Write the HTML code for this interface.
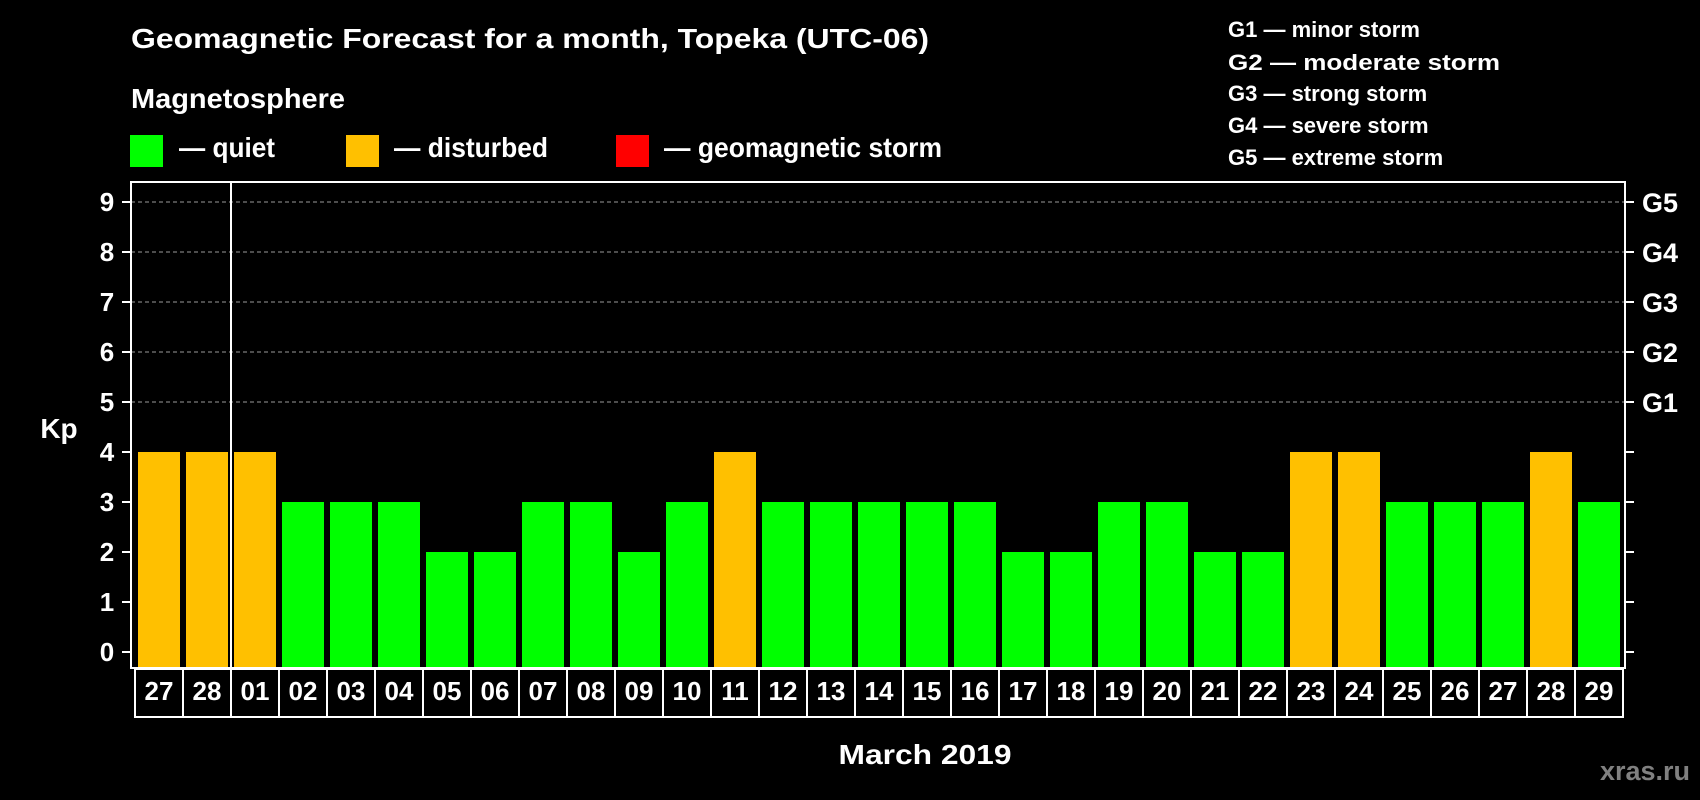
<!DOCTYPE html>
<html><head><meta charset="utf-8"><style>
html,body{margin:0;padding:0;background:#000;}
svg{display:block;font-family:"Liberation Sans",sans-serif;font-weight:bold;}
</style></head><body>
<svg id="chart" width="1700" height="800" viewBox="0 0 1700 800">
<rect x="0" y="0" width="1700" height="800" fill="#000"/>
<text x="131" y="48" font-size="28" fill="#fff" textLength="798" lengthAdjust="spacingAndGlyphs">Geomagnetic Forecast for a month, Topeka (UTC-06)</text>
<text x="131" y="108" font-size="28" fill="#fff" textLength="214" lengthAdjust="spacingAndGlyphs">Magnetosphere</text>
<g>
<rect x="130" y="135" width="33" height="32" fill="#00ff00"/>
<text x="179" y="157" font-size="28" fill="#fff" textLength="96" lengthAdjust="spacingAndGlyphs">— quiet</text></g>
<g>
<rect x="346" y="135" width="33" height="32" fill="#ffc000"/>
<text x="394" y="157" font-size="28" fill="#fff" textLength="154" lengthAdjust="spacingAndGlyphs">— disturbed</text></g>
<g>
<rect x="616" y="135" width="33" height="32" fill="#ff0000"/>
<text x="664" y="157" font-size="28" fill="#fff" textLength="278" lengthAdjust="spacingAndGlyphs">— geomagnetic storm</text></g>
<g font-size="22" fill="#fff">
<text x="1228" y="37">G1 — minor storm</text>
<text x="1228" y="70" textLength="272" lengthAdjust="spacingAndGlyphs">G2 — moderate storm</text>
<text x="1228" y="101">G3 — strong storm</text>
<text x="1228" y="133">G4 — severe storm</text>
<text x="1228" y="165">G5 — extreme storm</text>
</g>
<g id="grid"></g>
<g id="bars"></g>
<g id="axes"></g>
<text x="59" y="438" font-size="28" fill="#fff" text-anchor="middle">Kp</text>
<text x="925" y="764" font-size="28" fill="#fff" text-anchor="middle" textLength="173" lengthAdjust="spacingAndGlyphs">March 2019</text>
<text x="1690" y="780" font-size="27" fill="#808080" text-anchor="end">xras.ru</text>
</svg>
<script>
const days = ["27","28","01","02","03","04","05","06","07","08","09","10","11","12","13","14","15","16","17","18","19","20","21","22","23","24","25","26","27","28","29"];
const kp = [4,4,4,3,3,3,2,2,3,3,2,3,4,3,3,3,3,3,2,2,3,3,2,2,4,4,3,3,3,4,3];
const yTicks = ["0","1","2","3","4","5","6","7","8","9"];
const gLabels = ["","","","","","G1","G2","G3","G4","G5"];
const NS="http://www.w3.org/2000/svg";
const L=131,R=1625,T=182,B=668;
const y=v=>652-v*50;
const x0=i=>138+48*i;
function mk(tag,attrs,parent){const e=document.createElementNS(NS,tag);for(const k in attrs)e.setAttribute(k,attrs[k]);parent.appendChild(e);return e;}
const grid=document.getElementById('grid'),bars=document.getElementById('bars'),axes=document.getElementById('axes');
for(let v=5;v<=9;v++){
 const g=mk('line',{x1:L,x2:R,y1:y(v),y2:y(v),stroke:'#9a9a9a','stroke-width':1,'stroke-dasharray':'4,3'},grid);
 
 
}
kp.forEach((v,i)=>{
 const r=mk('rect',{x:x0(i),y:y(v),width:42,height:B-1-y(v),fill:v>=5?'#ff0000':(v>=4?'#ffc000':'#00ff00')},bars);
 
 
});
const fr=mk('rect',{x:L,y:T,width:R-L,height:B-T,fill:'none',stroke:'#fff','stroke-width':2},axes);


yTicks.forEach((t,v)=>{
 mk('line',{x1:122,x2:L,y1:y(v),y2:y(v),stroke:'#fff','stroke-width':2},axes);
 mk('line',{x1:R,x2:1634,y1:y(v),y2:y(v),stroke:'#fff','stroke-width':2},axes);
 const tx=mk('text',{x:107,y:y(v)+9,'font-size':26,fill:'#fff','text-anchor':'middle'},axes);
 tx.textContent=t;
 
 
 if(gLabels[v]){
  const g=mk('text',{x:1642,y:y(v)+10,'font-size':27,fill:'#fff'},axes);
  g.textContent=gLabels[v];
  
  
 }
});
const lb=mk('rect',{x:135,y:669,width:48*days.length,height:48,fill:'none',stroke:'#fff','stroke-width':2},axes);


days.forEach((d,i)=>{
 if(i>0) mk('line',{x1:135+48*i,x2:135+48*i,y1:669,y2:717,stroke:'#fff','stroke-width':2},axes);
 const t=mk('text',{x:x0(i)+21,y:700,'font-size':26,fill:'#fff','text-anchor':'middle'},axes);
 t.textContent=d;
 
 
});
const dv=mk('line',{x1:231,x2:231,y1:T,y2:717,stroke:'#fff','stroke-width':2},axes);


</script>
</body></html>
